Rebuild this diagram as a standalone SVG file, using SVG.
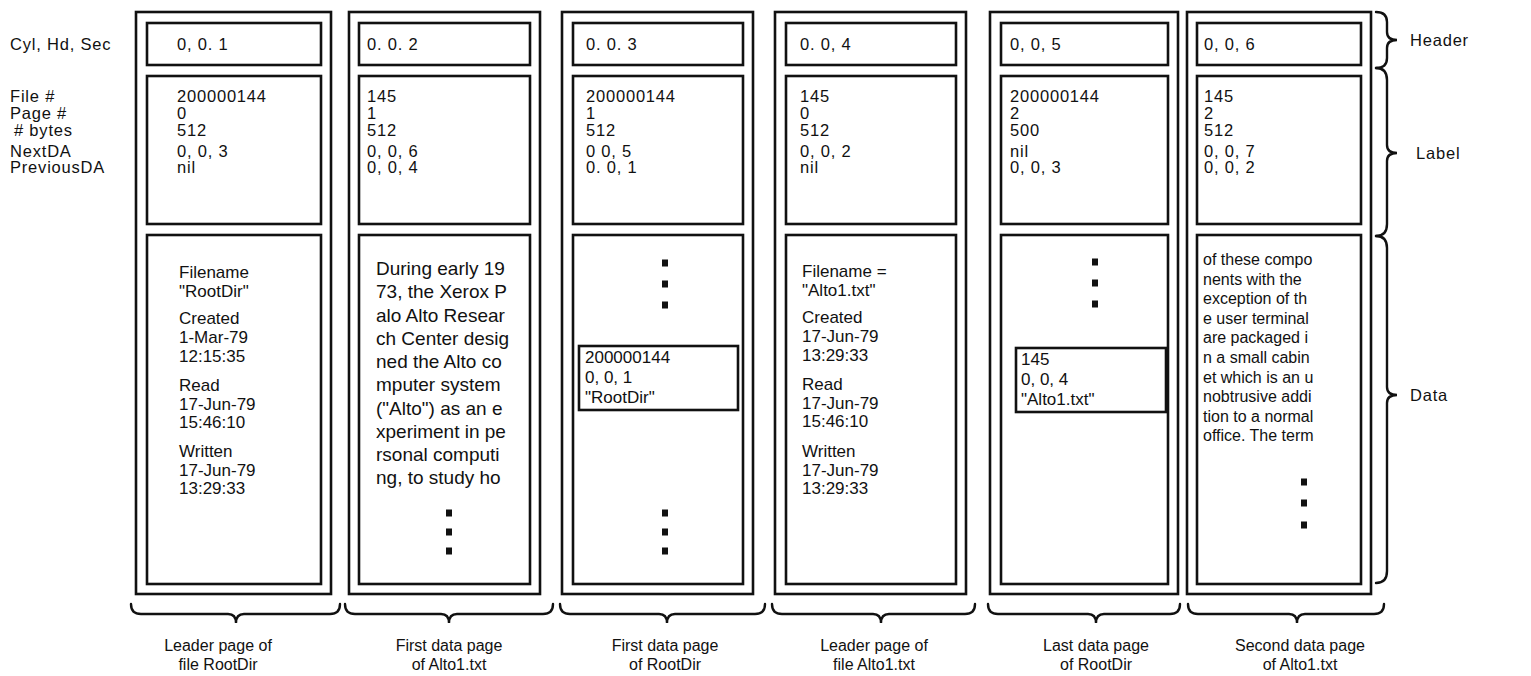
<svg xmlns="http://www.w3.org/2000/svg" width="1531" height="676" viewBox="0 0 1531 676">
<style>
text{font-family:"Liberation Sans",Arial,sans-serif;fill:#111;}
.lab{font-size:16.5px;letter-spacing:0.8px;}
.h{font-size:16.5px;letter-spacing:0.8px;}
.t{font-size:17px;}
.p{font-size:19px;}
.q{font-size:16px;}
.s{font-size:17px;}
.bt{font-size:16px;text-anchor:middle;}
.outer{fill:none;stroke:#111;stroke-width:2.6;}
.inner{fill:none;stroke:#111;stroke-width:2.6;}
.brace{fill:none;stroke:#111;stroke-width:2.4;stroke-linecap:round;}
.dot{fill:#111;}
</style>
<defs>
<rect id="dot" class="dot" x="-3" y="-3.5" width="6" height="7"/>
</defs>
<rect width="1531" height="676" fill="#fff"/>

<g id="row-labels">
<text class="lab" x="10" y="50">Cyl, Hd, Sec</text>
<text class="lab"><tspan x="10" y="102">File #</tspan><tspan x="10" y="119">Page #</tspan><tspan x="14" y="136"># bytes</tspan><tspan x="10" y="156.5">NextDA</tspan><tspan x="10" y="173">PreviousDA</tspan></text>
</g>

<g id="page1">
<rect class="outer" x="136" y="12" width="195" height="582"/>
<rect class="inner" x="147" y="23" width="174" height="42"/>
<rect class="inner" x="147" y="76" width="174" height="148"/>
<rect class="inner" x="147" y="235" width="174" height="349"/>
<text class="h" x="177" y="50">0, 0. 1</text>
<text class="h"><tspan x="177" y="102">200000144</tspan><tspan x="177" y="119">0</tspan><tspan x="177" y="136">512</tspan><tspan x="177" y="156.5">0, 0, 3</tspan><tspan x="177" y="173">nil</tspan></text>
<text class="t"><tspan x="179" y="278">Filename</tspan><tspan x="179" y="297">"RootDir"</tspan><tspan x="179" y="324">Created</tspan><tspan x="179" y="343">1-Mar-79</tspan><tspan x="179" y="362">12:15:35</tspan><tspan x="179" y="391">Read</tspan><tspan x="179" y="409.5">17-Jun-79</tspan><tspan x="179" y="428">15:46:10</tspan><tspan x="179" y="457">Written</tspan><tspan x="179" y="475.5">17-Jun-79</tspan><tspan x="179" y="494">13:29:33</tspan></text>
</g>

<g id="page2">
<rect class="outer" x="349" y="12" width="191" height="582"/>
<rect class="inner" x="359" y="23" width="171" height="42"/>
<rect class="inner" x="359" y="76" width="171" height="148"/>
<rect class="inner" x="359" y="235" width="171" height="349"/>
<text class="h" x="367" y="50">0. 0. 2</text>
<text class="h"><tspan x="367" y="102">145</tspan><tspan x="367" y="119">1</tspan><tspan x="367" y="136">512</tspan><tspan x="367" y="156.5">0, 0, 6</tspan><tspan x="367" y="173">0, 0, 4</tspan></text>
<text class="p"><tspan x="376" y="275">During early 19</tspan><tspan x="376" y="298">73, the Xerox P</tspan><tspan x="376" y="321.5">alo Alto Resear</tspan><tspan x="376" y="344.5">ch Center desig</tspan><tspan x="376" y="368">ned the Alto co</tspan><tspan x="376" y="391">mputer system</tspan><tspan x="376" y="414.5">("Alto") as an e</tspan><tspan x="376" y="437.5">xperiment in pe</tspan><tspan x="376" y="461">rsonal computi</tspan><tspan x="376" y="484">ng, to study ho</tspan></text>
<use href="#dot" x="449" y="513"/>
<use href="#dot" x="449" y="532"/>
<use href="#dot" x="449" y="551"/>
</g>

<g id="page3">
<rect class="outer" x="562" y="12" width="191" height="582"/>
<rect class="inner" x="573" y="23" width="170" height="42"/>
<rect class="inner" x="573" y="76" width="170" height="148"/>
<rect class="inner" x="573" y="235" width="170" height="349"/>
<text class="h" x="586" y="50">0. 0. 3</text>
<text class="h"><tspan x="586" y="102">200000144</tspan><tspan x="586" y="119">1</tspan><tspan x="586" y="136">512</tspan><tspan x="586" y="156.5">0  0, 5</tspan><tspan x="586" y="173">0. 0, 1</tspan></text>
<use href="#dot" x="665" y="263"/>
<use href="#dot" x="665" y="284"/>
<use href="#dot" x="665" y="305"/>
<rect class="inner" x="579" y="346" width="159" height="64"/>
<text class="s"><tspan x="585" y="363">200000144</tspan><tspan x="585" y="383">0, 0, 1</tspan><tspan x="585" y="403">"RootDir"</tspan></text>
<use href="#dot" x="665" y="513"/>
<use href="#dot" x="665" y="532"/>
<use href="#dot" x="665" y="551"/>
</g>

<g id="page4">
<rect class="outer" x="775" y="12" width="191" height="582"/>
<rect class="inner" x="786" y="23" width="170" height="42"/>
<rect class="inner" x="786" y="76" width="170" height="148"/>
<rect class="inner" x="786" y="235" width="170" height="349"/>
<text class="h" x="800" y="50">0. 0, 4</text>
<text class="h"><tspan x="800" y="102">145</tspan><tspan x="800" y="119">0</tspan><tspan x="800" y="136">512</tspan><tspan x="800" y="156.5">0, 0, 2</tspan><tspan x="800" y="173">nil</tspan></text>
<text class="t"><tspan x="802" y="277">Filename =</tspan><tspan x="802" y="296">"Alto1.txt"</tspan><tspan x="802" y="323">Created</tspan><tspan x="802" y="342">17-Jun-79</tspan><tspan x="802" y="361">13:29:33</tspan><tspan x="802" y="390">Read</tspan><tspan x="802" y="408.5">17-Jun-79</tspan><tspan x="802" y="427">15:46:10</tspan><tspan x="802" y="457">Written</tspan><tspan x="802" y="475.5">17-Jun-79</tspan><tspan x="802" y="494">13:29:33</tspan></text>
</g>

<g id="page5">
<rect class="outer" x="990" y="12" width="188" height="582"/>
<rect class="inner" x="1001" y="23" width="167" height="42"/>
<rect class="inner" x="1001" y="76" width="167" height="148"/>
<rect class="inner" x="1001" y="235" width="167" height="349"/>
<text class="h" x="1010" y="50">0, 0, 5</text>
<text class="h"><tspan x="1010" y="102">200000144</tspan><tspan x="1010" y="119">2</tspan><tspan x="1010" y="136">500</tspan><tspan x="1010" y="156.5">nil</tspan><tspan x="1010" y="173">0, 0, 3</tspan></text>
<use href="#dot" x="1095" y="262"/>
<use href="#dot" x="1095" y="283"/>
<use href="#dot" x="1095" y="304"/>
<rect class="inner" x="1016" y="348" width="150" height="64"/>
<text class="s"><tspan x="1021" y="365">145</tspan><tspan x="1021" y="385">0, 0, 4</tspan><tspan x="1021" y="405">"Alto1.txt"</tspan></text>
</g>

<g id="page6">
<rect class="outer" x="1187" y="12" width="184" height="582"/>
<rect class="inner" x="1197" y="23" width="164" height="42"/>
<rect class="inner" x="1197" y="76" width="164" height="148"/>
<rect class="inner" x="1197" y="235" width="164" height="349"/>
<text class="h" x="1204" y="50">0, 0, 6</text>
<text class="h"><tspan x="1204" y="102">145</tspan><tspan x="1204" y="119">2</tspan><tspan x="1204" y="136">512</tspan><tspan x="1204" y="156.5">0, 0, 7</tspan><tspan x="1204" y="173">0, 0, 2</tspan></text>
<text class="q"><tspan x="1203" y="265">of these compo</tspan><tspan x="1203" y="284.6">nents with the</tspan><tspan x="1203" y="304.2">exception of th</tspan><tspan x="1203" y="323.8">e user terminal</tspan><tspan x="1203" y="343.4">are packaged i</tspan><tspan x="1203" y="363">n a small cabin</tspan><tspan x="1203" y="382.6">et which is an u</tspan><tspan x="1203" y="402.2">nobtrusive addi</tspan><tspan x="1203" y="421.8">tion to a normal</tspan><tspan x="1203" y="441.4">office.  The term</tspan></text>
<use href="#dot" x="1304" y="482"/>
<use href="#dot" x="1304" y="503"/>
<use href="#dot" x="1304" y="525"/>
</g>

<g id="connectors">
<path class="brace" d="M1376 12 Q1387 12 1387 22 L1387 32 Q1387 40 1397 40 Q1387 40 1387 48 L1387 58 Q1387 68 1376 68"/>
<path class="brace" d="M1376 68 Q1387 68 1387 80 L1387 145 Q1387 153 1397 153 Q1387 153 1387 161 L1387 224 Q1387 236 1376 236"/>
<path class="brace" d="M1376 236 Q1387 236 1387 248 L1387 387 Q1387 395 1397 395 Q1387 395 1387 403 L1387 571 Q1387 583 1376 583"/>
<path class="brace" d="M131 604 Q131 614 141 614 L228 614 Q236 614 236 623 Q236 614 244 614 L330 614 Q340 614 340 604"/>
<path class="brace" d="M345 604 Q345 614 355 614 L441 614 Q449 614 449 623 Q449 614 457 614 L543 614 Q553 614 553 604"/>
<path class="brace" d="M560 604 Q560 614 570 614 L659 614 Q667 614 667 623 Q667 614 675 614 L755 614 Q765 614 765 604"/>
<path class="brace" d="M772 604 Q772 614 782 614 L873 614 Q881 614 881 623 Q881 614 889 614 L965 614 Q975 614 975 604"/>
<path class="brace" d="M988 604 Q988 614 998 614 L1088 614 Q1096 614 1096 623 Q1096 614 1104 614 L1170 614 Q1180 614 1180 604"/>
<path class="brace" d="M1188 604 Q1188 614 1198 614 L1289 614 Q1297 614 1297 623 Q1297 614 1305 614 L1374 614 Q1384 614 1384 604"/>
</g>

<g id="section-labels" class="lab">
<text x="1410" y="46">Header</text>
<text x="1416" y="159">Label</text>
<text x="1410" y="401">Data</text>
</g>

<g id="page-captions" class="bt">
<text><tspan x="218" y="651">Leader page of</tspan><tspan x="218" y="670">file RootDir</tspan></text>
<text><tspan x="449" y="651">First data page</tspan><tspan x="449" y="670">of Alto1.txt</tspan></text>
<text><tspan x="665" y="651">First data page</tspan><tspan x="665" y="670">of RootDir</tspan></text>
<text><tspan x="874" y="651">Leader page of</tspan><tspan x="874" y="670">file Alto1.txt</tspan></text>
<text><tspan x="1096" y="651">Last data page</tspan><tspan x="1096" y="670">of RootDir</tspan></text>
<text><tspan x="1300" y="651">Second data page</tspan><tspan x="1300" y="670">of Alto1.txt</tspan></text>
</g>
</svg>
